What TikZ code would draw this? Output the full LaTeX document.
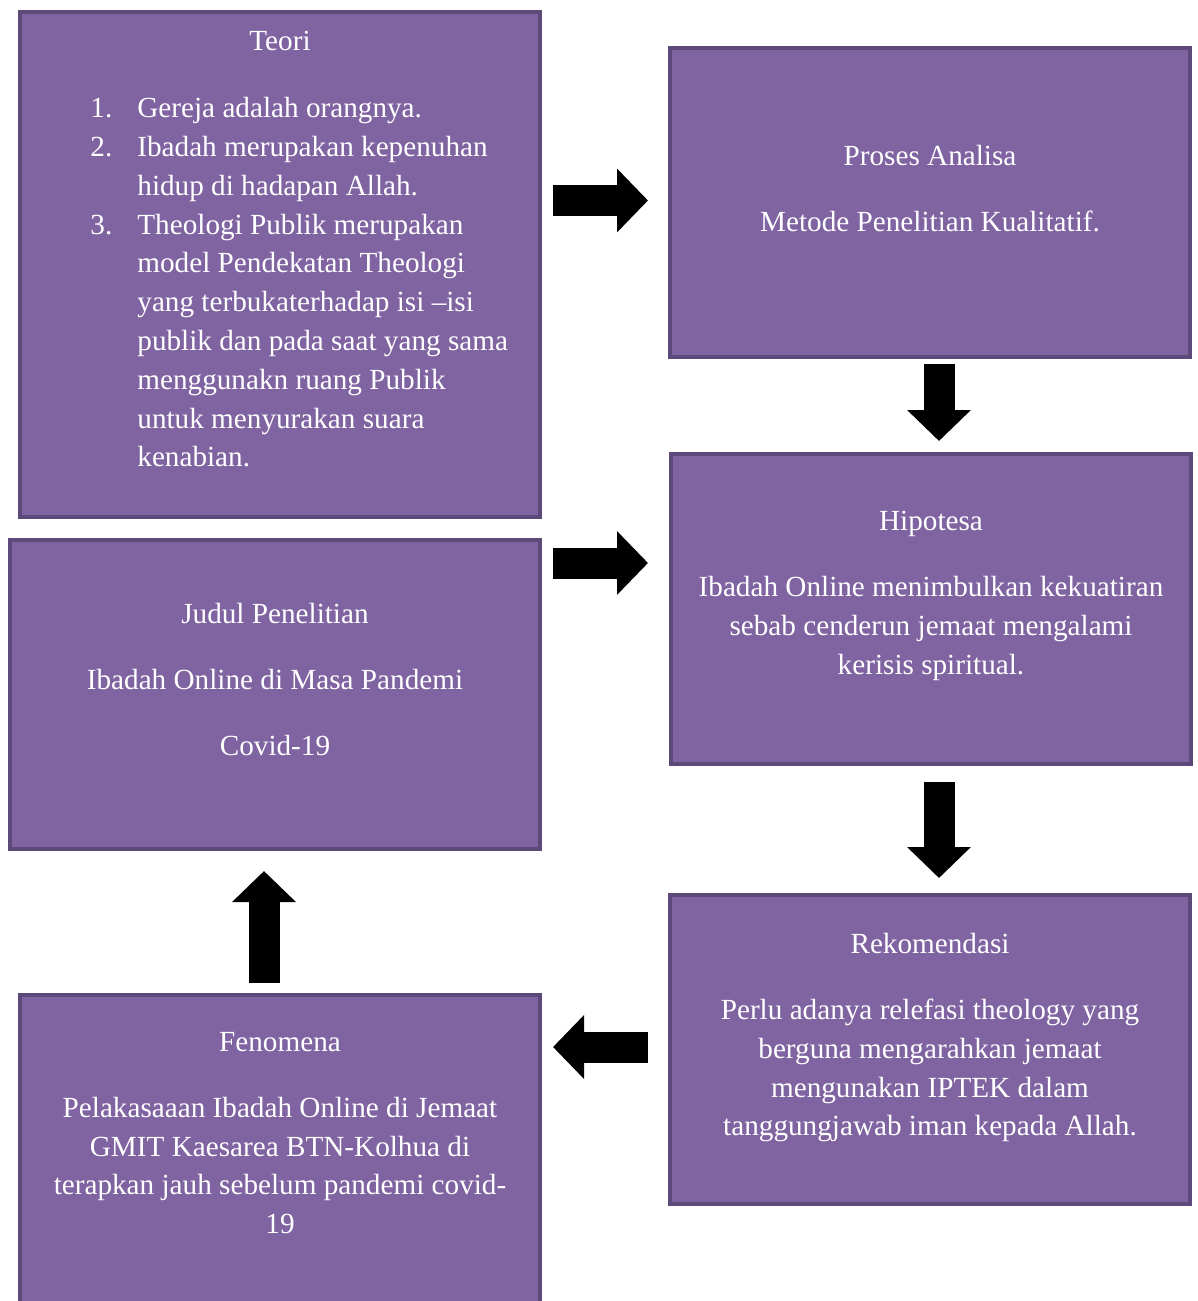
\documentclass[tikz,border=0pt]{standalone}
\usepackage{fontspec}
\setmainfont{Liberation Serif}
\usepackage{tikz}
\usetikzlibrary{arrows.meta,positioning,calc}
\definecolor{boxfill}{RGB}{128,100,162}
\definecolor{boxline}{RGB}{94,74,122}
\newcommand{\numbox}[1]{\makebox[23.5pt][l]{#1}}
\newcommand{\hangin}{\hspace*{23.5pt}}
\tikzset{
  box/.style     ={draw=boxline,fill=boxfill,line width=2pt,minimum width=260pt,minimum height=154.5pt,inner sep=0pt},
  txt/.style     ={text=white,align=center,inner sep=0pt,font=\fontsize{14.6}{19.4}\selectfont},
  bigarrow/.style={line width=15.5pt,-{Triangle[length=15.5pt,width=31pt]}}
}

\begin{document}
\begin{tikzpicture}[x=0.5pt,y=-0.5pt]
    \useasboundingbox (0,0) rectangle (1198,1301);
    % boxes
    \node[box,minimum height=252.5pt] (teori) at (280,264.5) {};
    \node[box] (proses) at (930,202.5) {};
    \node[box,minimum height=155pt,below=46.5pt of proses,xshift=0.5pt] (hipotesa) {};
    \node[box,below=63.5pt of hipotesa,xshift=-0.5pt] (rekomendasi) {};
    \node[box,minimum width=265pt,below=9.5pt of teori,xshift=-2.5pt] (judul) {};
    \node[box,below=71pt of judul,xshift=2.5pt] (fenomena) {};
    % texts
    \node[txt,below=10.5pt of teori.north,anchor=north] (teoriT) {Teori};
    \node[txt,align=left,below right=43.5pt and 36pt of teori.north west,anchor=north west] (teoriL)
      {\numbox{1.}Gereja adalah orangnya.\\
       \numbox{2.}Ibadah merupakan kepenuhan\\
       \hangin hidup di hadapan Allah.\\
       \numbox{3.}Theologi Publik merupakan\\
       \hangin model Pendekatan Theologi\\
       \hangin yang terbukaterhadap isi –isi\\
       \hangin publik dan pada saat yang sama\\
       \hangin menggunakn ruang Publik\\
       \hangin untuk menyurakan suara\\
       \hangin kenabian.};
    \node[txt,below=49.5pt of proses.north,anchor=north] (prosesT)
      {Proses Analisa\\[13.5pt]Metode Penelitian Kualitatif.};
    \node[txt,below=29.5pt of hipotesa.north,anchor=north] (hipotesaT)
      {Hipotesa\\[13.5pt]Ibadah Online menimbulkan kekuatiran\\sebab cenderun jemaat mengalami\\kerisis spiritual.};
    \node[txt,below=32.5pt of judul.north,anchor=north] (judulT)
      {Judul Penelitian\\[13.5pt]Ibadah Online di Masa Pandemi\\[13.5pt]Covid-19};
    \node[txt,below=20pt of rekomendasi.north,anchor=north] (rekomendasiT)
      {Rekomendasi\\[13.5pt]Perlu adanya relefasi theology yang\\berguna mengarahkan jemaat\\mengunakan IPTEK dalam\\tanggungjawab iman kepada Allah.};
    \node[txt,below=19.5pt of fenomena.north,anchor=north] (fenomenaT)
      {Fenomena\\[13.5pt]Pelakasaaan Ibadah Online di Jemaat\\GMIT Kaesarea BTN-Kolhua di\\terapkan jauh sebelum pandemi covid-\\19};
    % block arrows
    \draw[bigarrow] ($(teori.east |- proses.west)+(11,-2)$) -- ($(proses.west)+(-20,-2)$);
    \draw[bigarrow] ($(judul.east |- hipotesa.west)+(11,-46)$) -- ($(hipotesa.west)+(-21,-46)$);
    \draw[bigarrow] ($(proses.south)+(9,5)$) -- ($(hipotesa.north)+(8,-11)$);
    \draw[bigarrow] ($(hipotesa.south)+(8,16)$) -- ($(rekomendasi.north)+(9,-15)$);
    \draw[bigarrow] ($(rekomendasi.west)+(-20,-2.5)$) -- ($(fenomena.east |- rekomendasi.west)+(11,-2.5)$);
    \draw[bigarrow] ($(fenomena.north)+(-16,-10)$) -- ($(judul.south)+(-11,20)$);
\end{tikzpicture}
\end{document}
